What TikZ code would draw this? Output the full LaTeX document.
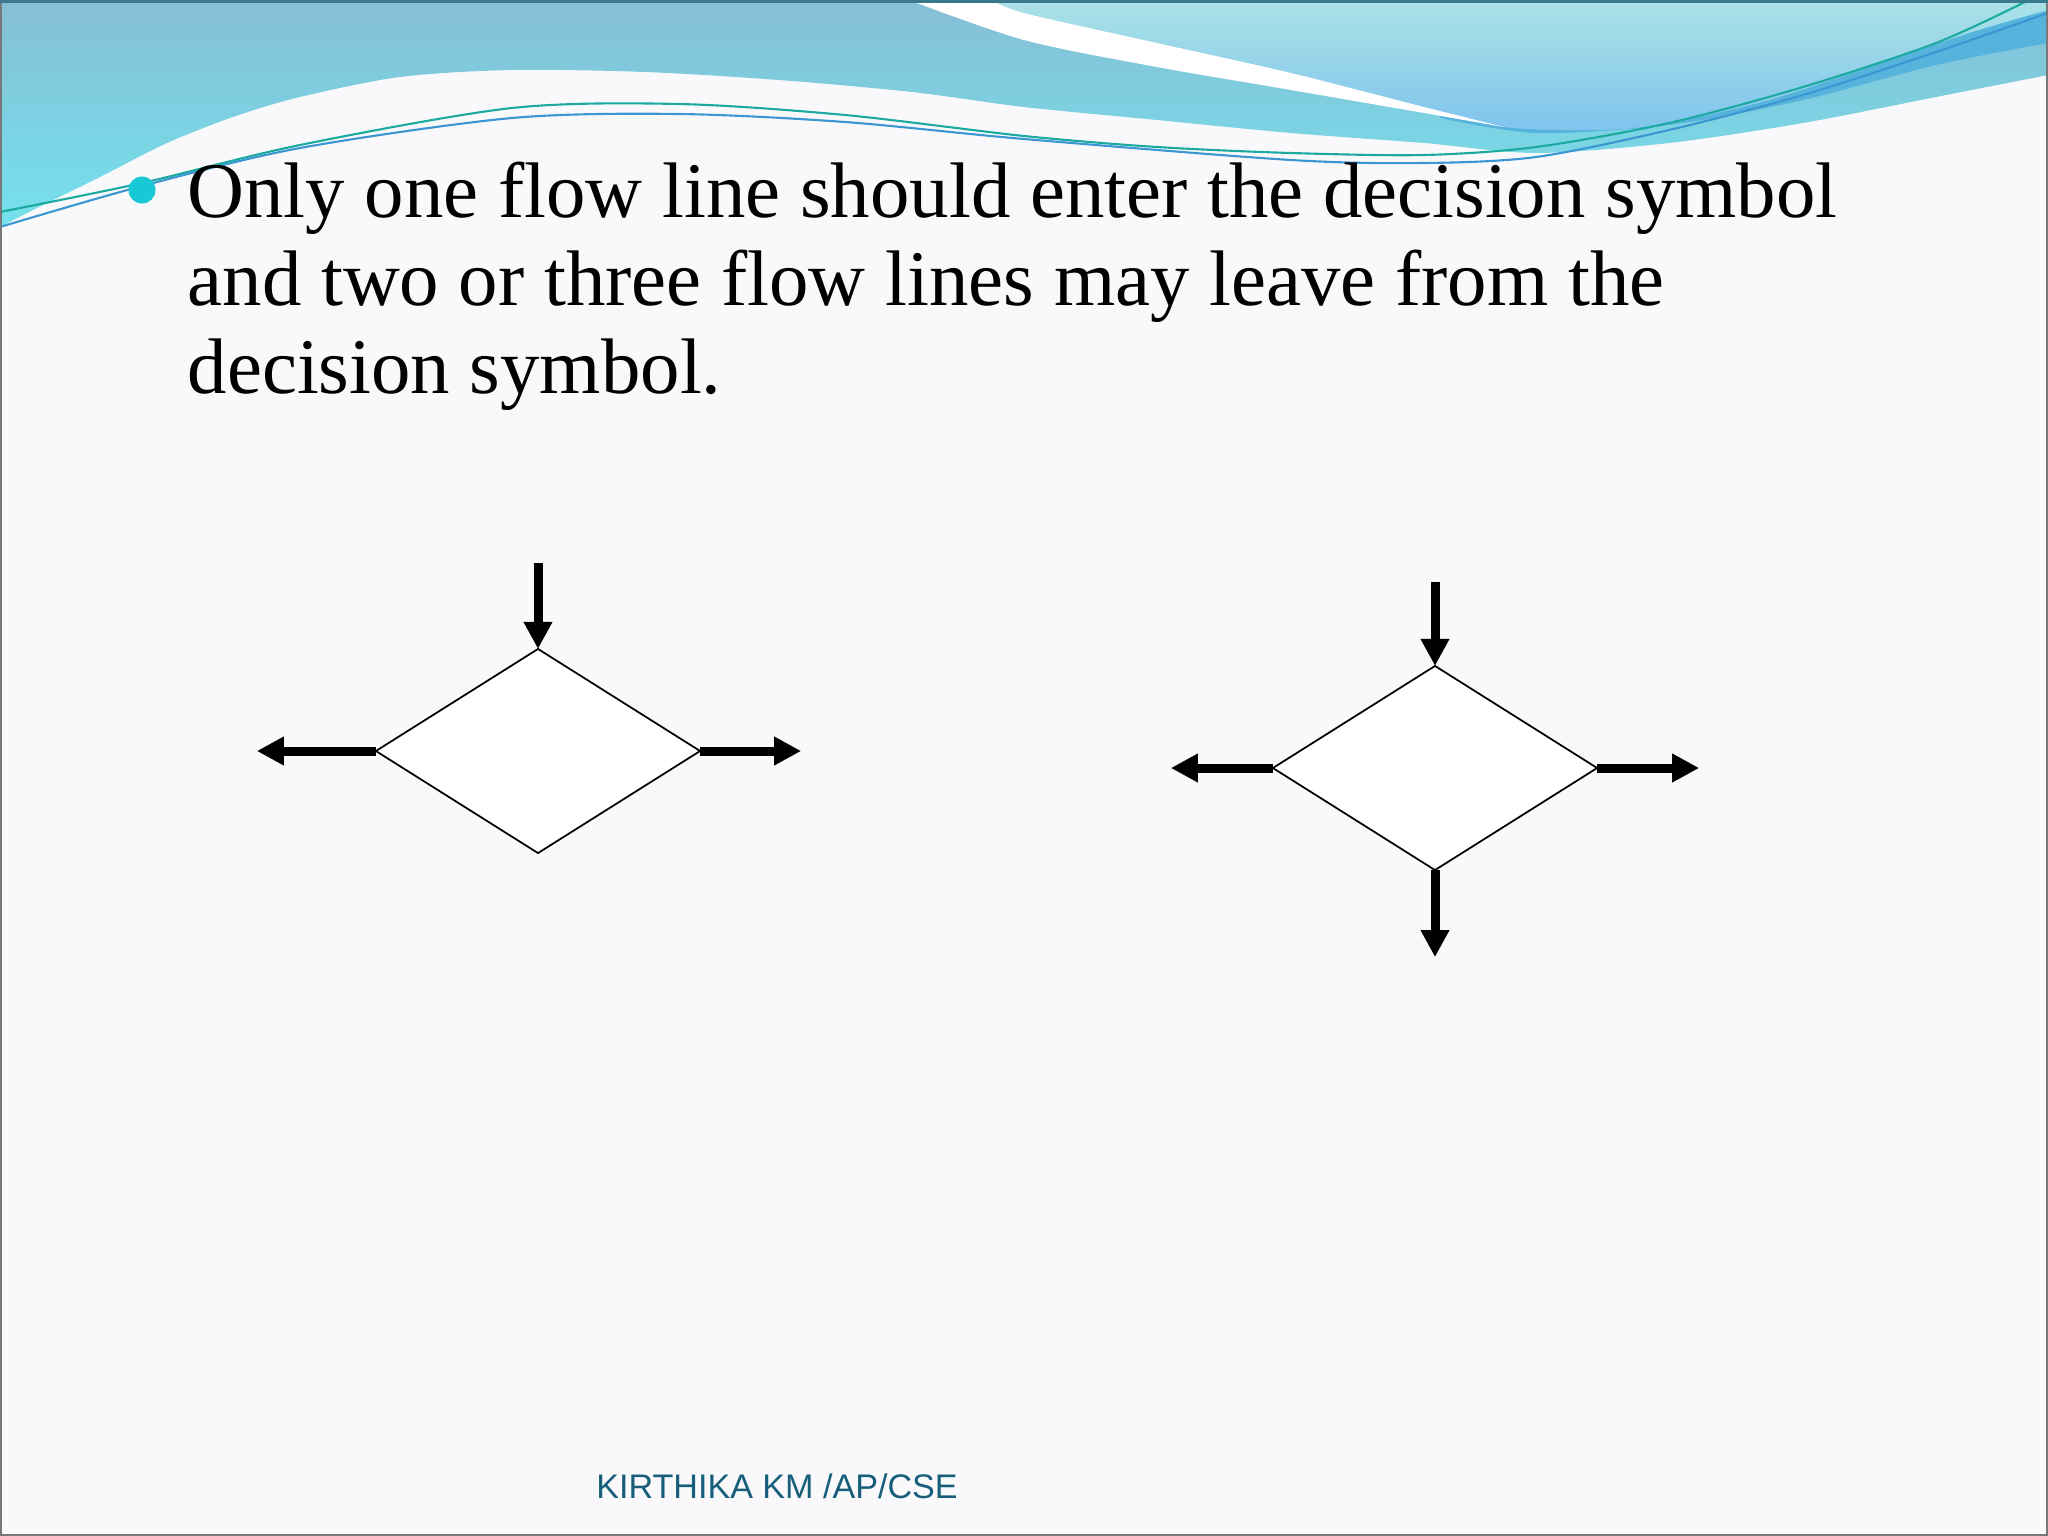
\documentclass[tikz,border=0pt]{standalone}
\usepackage{fontspec}
\setmainfont{Liberation Serif}
\newfontfamily\footfont{Liberation Sans}
\usetikzlibrary{arrows.meta,shapes.geometric,positioning}
\definecolor{slidebg}{RGB}{249,249,251}
\definecolor{waveTop}{RGB}{134,190,214}
\definecolor{waveLow}{RGB}{116,226,236}
\definecolor{waveDeep}{RGB}{86,180,220}
\definecolor{skyTop}{RGB}{170,226,230}
\definecolor{skyLow}{RGB}{128,196,238}
\definecolor{lineTeal}{RGB}{28,170,160}
\definecolor{lineBlue}{RGB}{60,150,210}
\definecolor{bulletcol}{RGB}{24,200,212}
\definecolor{footcol}{RGB}{22,94,122}
\definecolor{framecol}{RGB}{120,120,120}
\definecolor{topcol}{RGB}{58,120,140}
\tikzset{
  decision/.style = {draw, diamond, aspect=1.59, minimum width=3.24cm,
                     minimum height=2.04cm, inner sep=0pt, outer sep=0pt,
                     line width=0.5pt, fill=white},
  flow/.style     = {line width=0.09cm, -{Triangle[length=0.27cm,width=0.27cm]}},
  bullet/.style   = {circle, fill=bulletcol, minimum size=0.27cm, inner sep=0pt},
  body/.style     = {align=left, inner sep=0pt, font=\fontsize{22.4}{25}\selectfont},
  footer/.style   = {inner sep=0pt, text=footcol, font=\footfont\fontsize{9.7}{11}\selectfont},
  waveline/.style = {line width=0.6pt}
}

\begin{document}
\begin{tikzpicture}[x=0.01cm, y=-0.01cm]
\useasboundingbox (0,0) rectangle (2048,1536);
\fill[slidebg] (0,0) rectangle (2048,1536);

% header waves
\shade[top color=waveTop, bottom color=waveLow] (0,0) -- (2048,0) -- (2048,75)
  -- plot[smooth] coordinates {(2048,75) (1936,97) (1803,123) (1669,143) (1536,153)
     (1424,143) (1291,133) (1157,120) (1024,107) (912,92) (779,80) (645,72) (512,70)
     (400,77) (300,97) (233,117) (167,143) (100,177) (33,210) (0,227)} -- cycle;
\fill[waveDeep] plot[smooth] coordinates {(1440,118) (1536,133) (1669,125) (1803,100)
  (1936,65) (2048,43)} -- (2048,0) -- (1440,0) -- cycle;
\shade[top color=skyTop, bottom color=skyLow] plot[smooth] coordinates {(992,0)
  (1024,13) (1157,43) (1291,73) (1424,107) (1504,127) (1603,130) (1669,123)
  (1769,100) (1869,67) (1969,33) (2048,10)} -- (2048,0) -- cycle;
\fill[white] plot[smooth] coordinates {(909,0) (1024,40) (1157,67) (1291,90)
  (1424,113) (1504,127)} -- plot[smooth] coordinates {(1504,127) (1424,107)
  (1291,73) (1157,43) (1024,13) (992,0)} -- cycle;
\draw[waveline, lineTeal] plot[smooth] coordinates {(0,212) (142,183) (300,145)
  (512,108) (679,104) (845,115) (1024,136) (1157,147) (1291,153) (1424,155)
  (1536,147) (1669,123) (1803,87) (1936,43) (2029,0)};
\draw[waveline, lineBlue] plot[smooth] coordinates {(0,227) (142,186) (300,148)
  (512,118) (679,114) (845,122) (1024,139) (1291,160) (1424,163) (1536,157)
  (1669,130) (1803,95) (1936,52) (2048,13)};

% text
\node[bullet] (bul) at (142,190) {};
\node[body, anchor=base west] (txt) at (187,393)
  {Only one flow line should enter the decision symbol\\
   and two or three flow lines may leave from the\\
   decision symbol.};

% decision symbols
\node[decision] (d1) at (538,751) {};
\node[decision] (d2) at (1435,768) {};

\coordinate[above=0.86cm of d1.north] (d1t);
\coordinate[left=1.19cm of d1.west] (d1l);
\coordinate[right=1.01cm of d1.east] (d1r);
\coordinate[above=0.84cm of d2.north] (d2t);
\coordinate[left=1.02cm of d2.west] (d2l);
\coordinate[right=1.02cm of d2.east] (d2r);
\coordinate[below=0.87cm of d2.south] (d2b);

\draw[flow] (d1t) -- (d1.north);
\draw[flow] (d2t) -- (d2.north);
\foreach \side/\pt in {west/l, east/r}
  \draw[flow] (d1.\side) -- (d1\pt);
\foreach \side/\pt in {west/l, east/r, south/b}
  \draw[flow] (d2.\side) -- (d2\pt);

% footer
\node[footer, anchor=base] (foot) at (777,1498) {KIRTHIKA KM /AP/CSE};

% frame
\draw[framecol, line width=0.6pt] (1,1) rectangle (2047,1535);
\draw[topcol, line width=1pt] (0,1) -- (2048,1);
\end{tikzpicture}
\end{document}
